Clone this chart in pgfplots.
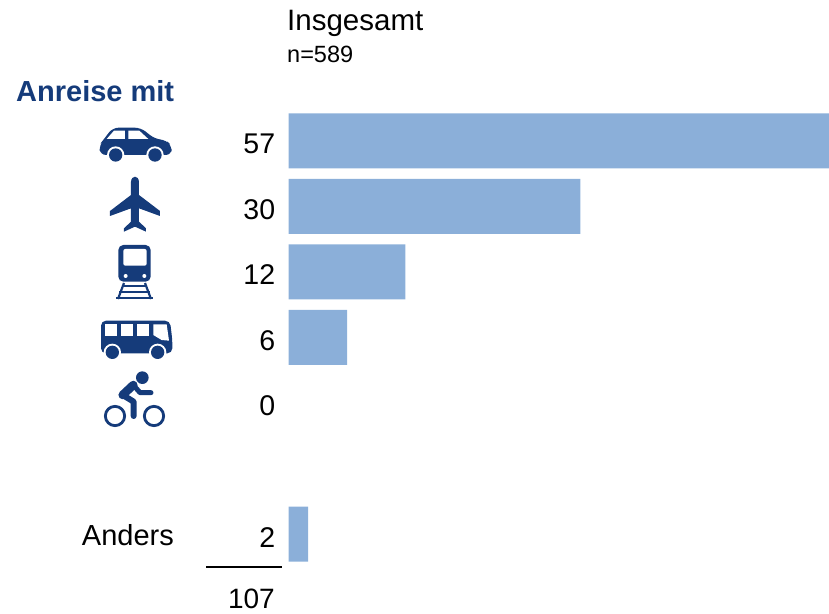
\documentclass[border=0pt]{standalone}
\usepackage{pgfplots}
\pgfplotsset{compat=1.18}
\usepackage{fontspec}
\setmainfont{Liberation Sans}
\definecolor{barblue}{RGB}{139,175,217}
\definecolor{navy}{RGB}{21,59,122}
\newcommand{\bigf}{\fontsize{28.5}{30}\selectfont}
\begin{document}
\begin{tikzpicture}[x=1pt,y=-1pt]
\useasboundingbox (0,0) rectangle (829,613);
\begin{axis}[
  at={(297,164.7)}, anchor=north west,
  scale only axis, width=540.5pt, height=458.9pt,
  xmin=0, xmax=55.6, ymin=-0.5, ymax=6.5, y dir=reverse,
  xbar, bar width=55pt, bar shift=0pt,
  axis line style={draw=none},
  xtick=\empty, ytick={0,1,2,3,4,5,6},
  yticklabels={57,30,12,6,0,{},2},
  major tick length=0pt,
  y tick label style={font=\bigf, xshift=-10pt, yshift=-3pt},
]
\addplot[fill=barblue, draw=none] coordinates {(57,0) (30,1) (12,2) (6,3) (2,6)};
\addplot[fill=none, draw=none] coordinates {(0,4)};
\end{axis}
\node[anchor=base west, inner sep=0pt, font=\fontsize{29.5}{31}\selectfont] at (287,30) {Insgesamt};
\node[anchor=base west, inner sep=0pt, font=\fontsize{23.5}{25}\selectfont] at (287,62) {n=589};
\node[anchor=base west, inner sep=0pt, text=navy, font=\fontsize{29}{31}\selectfont\bfseries] at (16,101) {Anreise mit};
\node[anchor=base east, inner sep=0pt, font=\fontsize{29}{31}\selectfont] at (174,545) {Anders};
\node[anchor=base east, inner sep=0pt, font=\fontsize{28}{30}\selectfont] at (275,608) {107};
\draw[black, line width=2.5pt] (206,567) -- (282,567);
% car
\begin{scope}[shift={(90,115)}, x=0.3333pt, y=-0.3333pt]
\fill[navy, rounded corners=6pt] (30,120) -- (28,90) -- (42,72) -- (68,38) -- (152,38) -- (195,72) -- (228,75) -- (245,92) -- (245,120) -- cycle;
\fill[white] (50,72) -- (72,47) -- (105,47) -- (105,72) -- cycle;
\fill[white] (115,47) -- (148,47) -- (175,72) -- (115,72) -- cycle;
\fill[white] (77,120) circle[radius=26];
\fill[white] (195,120) circle[radius=26];
\fill[navy] (77,120) circle[radius=20];
\fill[navy] (195,120) circle[radius=20];
% plane
\fill[navy] (123,200) .. controls (125,180) and (145,180) .. (147,200) -- (147,240) -- (210,288) -- (210,303) -- (147,280) -- (147,320) -- (168,340) -- (168,350) -- (135,335) -- (102,350) -- (102,340) -- (123,320) -- (123,280) -- (60,303) -- (60,288) -- (123,240) -- cycle;
% train
\fill[navy, rounded corners=5pt] (85,390) rectangle (182,500);
\fill[white, rounded corners=2pt] (100,402) rectangle (170,452);
\fill[white] (107,483) circle[radius=6];
\fill[white] (163,483) circle[radius=6];
\end{scope}
\begin{scope}[navy, line width=2.2pt]
\draw (118,299) -- (124,283);
\draw (151,299) -- (145,283);
\draw (116,298) -- (153,298);
\draw (119,292) -- (150,292);
\draw (122,286) -- (147,286);
\end{scope}
% bus and bike
\begin{scope}[shift={(90,290)}, x=0.3333pt, y=-0.3333pt]
\fill[navy, rounded corners=5pt] (33,92) -- (240,92) -- (247,150) -- (247,190) -- (33,190) -- cycle;
\fill[white] (45,103) rectangle (82,137);
\fill[white] (93,103) rectangle (130,137);
\fill[white] (140,103) rectangle (177,137);
\fill[white] (190,103) -- (230,103) -- (237,152) -- (215,150) -- (190,135) -- cycle;
\fill[white] (67,187) circle[radius=26];
\fill[white] (203,187) circle[radius=26];
\fill[navy] (67,187) circle[radius=20];
\fill[navy] (203,187) circle[radius=20];
% bike
\draw[navy, line width=2.8pt] (75,378) circle[radius=29];
\draw[navy, line width=2.8pt] (192,378) circle[radius=29];
\fill[navy] (157,263) circle[radius=19];
\draw[navy, line width=8.5pt, line cap=round, line join=round] (98,315) -- (130,285);
\draw[navy, line width=5pt, line cap=round, line join=round] (130,285) -- (150,308) -- (183,308);
\draw[navy, line width=6pt, line cap=round, line join=round] (98,315) -- (131,335) -- (131,378);
\end{scope}
\end{tikzpicture}
\end{document}
